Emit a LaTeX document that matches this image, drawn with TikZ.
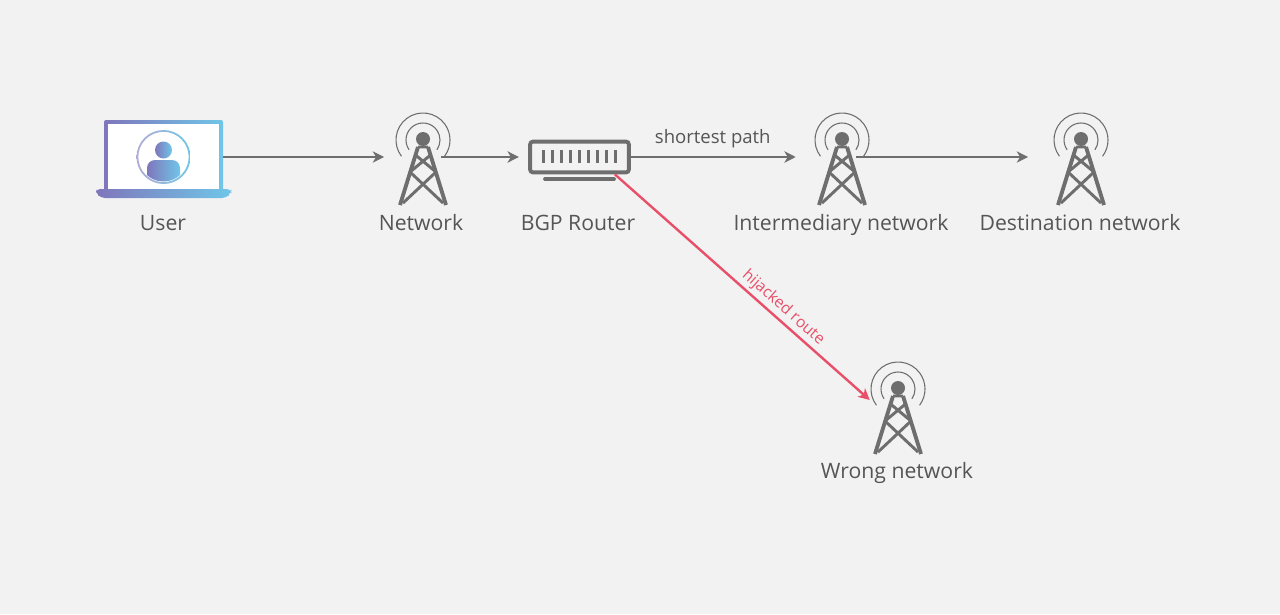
\documentclass[tikz,border=0pt]{standalone}
\usepackage{fontspec}
\setmainfont{Open Sans}
\usetikzlibrary{arrows.meta,positioning}
\definecolor{bgc}{HTML}{F2F2F2}
\definecolor{iconc}{HTML}{6E6E6E}
\definecolor{textc}{HTML}{555555}
\definecolor{redc}{HTML}{E8506A}
\definecolor{lapl}{HTML}{7F76BB}
\definecolor{lapr}{HTML}{70C6E8}
\tikzset{
  arr/.style={-{Stealth[length=8.5pt,width=8.5pt,inset=2.5pt]}, iconc, line width=1.8pt},
  hij/.style={arr, redc},
  towerbox/.style={minimum width=27pt, minimum height=69pt, inner sep=0pt},
  lbl/.style={font=\fontsize{15.9}{18}\selectfont, text=textc, inner sep=0pt, text height=12pt, text depth=3.5pt},
  small/.style={font=\fontsize{13.9}{16}\selectfont, inner sep=0pt},
  tower/.pic={
    \draw[iconc, line width=.8pt] (0,-19) ++(145:17) arc[start angle=145, end angle=395, radius=17];
    \draw[iconc, line width=.8pt] (0,-19) ++(143:27) arc[start angle=143, end angle=397, radius=27];
    \fill[iconc] (0,-20) circle[radius=7];
    \draw[iconc, line width=2.9pt, line join=round]
      (-5,-12) -- (-23,46) (5,-12) -- (23,46);
    \draw[iconc, line width=2.2pt]
      (-7.5,-4) -- (13,13) (7.5,-4) -- (-13,13)
      (-13,13) -- (20,44) (13,13) -- (-20,44)
      (-5,-12) -- (5,-12);
  },
}
\begin{document}
\begin{tikzpicture}[x=.75pt, y=-.75pt]
  \fill[bgc] (0,0) rectangle (1280,614);
  \useasboundingbox (0,0) rectangle (1280,614);
  % laptop
  \node[minimum width=89.25pt, minimum height=52.5pt, inner sep=0pt] (user) at (163.5,157) {};
  \shade[left color=lapl, right color=lapr, rounded corners=1.5pt] (104,120) rectangle (223,191);
  \fill[white] (108,124) rectangle (219,189);
  \shade[left color=lapl, right color=lapr, rounded corners=3pt] (96,189) -- (231,189) -- (231,193) -- (226,198) -- (101,198) -- (96,193) -- cycle;
  \shade[left color=lapl!60!white, right color=lapr, even odd rule] (163.5,157) circle[radius=27] (163.5,157) circle[radius=25.2];
  \shade[left color=lapl, right color=lapr] (163.5,150) circle[radius=8.5];
  \begin{scope}
    \clip (163.5,157) circle[radius=24.5];
    \shade[left color=lapl, right color=lapr, rounded corners=6pt] (147,190) rectangle (180,160);
  \end{scope}
  % towers
  \node[towerbox] (net) at (423,157) {};
  \node[towerbox] (inter) at (842,157) {};
  \node[towerbox] (dest) at (1081,157) {};
  \node[towerbox] (wrong) at (898,406) {};
  \foreach \t in {net,inter,dest,wrong} \pic at ([yshift=-1.5pt]\t) {tower};
  % router
  \node[draw=iconc, line width=2.9pt, rounded corners=2pt, minimum width=74pt, minimum height=23pt, inner sep=0pt] (router) at (579.5,157) {};
  \foreach \i in {0,...,8} \draw[iconc, line width=2.1pt] (543.5+\i*9,150) -- (543.5+\i*9,163);
  \draw[iconc, line width=2.8pt, line cap=round] (545,179) -- (614,179);
  % labels
  \node[lbl] (userlbl) at (163,225) {User};
  \node[lbl] (netlbl) at (421,225) {Network};
  \node[lbl] (routerlbl) at (578,225) {BGP Router};
  \node[lbl] (interlbl) at (841,225) {Intermediary network};
  \node[lbl] (destlbl) at (1080,225) {Destination network};
  \node[lbl] (wronglbl) at (897,473) {Wrong network};
  % connectors
  \draw[arr, shorten >=15.5pt] (user.east) -- (net.west);
  \draw[arr, shorten >=7pt] (net.east) -- (router.west);
  \draw[arr, shorten >=21pt] (router.east) -- node[small, text=textc, pos=.425, above=6pt] {shortest path} (inter.west);
  \draw[arr, shorten >=26pt] ([xshift=-3pt]inter.east) -- (dest.west);
  \draw[hij] ([xshift=-12pt]router.south east) -- node[small, font=\fontsize{11.8}{14}\selectfont, text=redc, sloped, above=2pt, pos=.63] {hijacked route} ([shift={(-7.5pt,4.5pt)}]wrong.west);
\end{tikzpicture}
\end{document}
